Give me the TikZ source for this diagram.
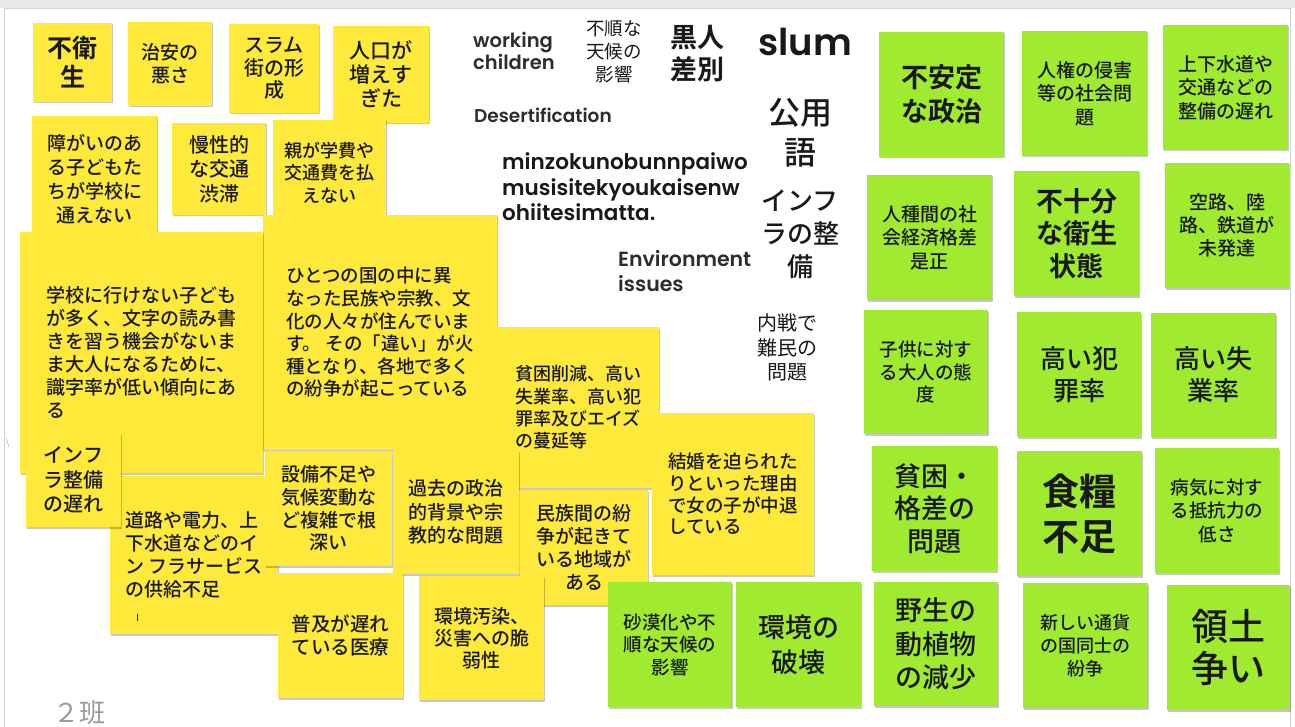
\documentclass[tikz,border=0pt]{standalone}
\usepackage{fontspec}
\setmainfont{Noto Sans CJK JP Medium}[BoldFont={Noto Sans CJK JP Bold}]
\newfontfamily\cjkr{Noto Sans CJK JP}
\newfontfamily\pops{Poppins SemiBold}
\newfontfamily\popx{Poppins SemiBold}
\usetikzlibrary{shadows}
\definecolor{ny}{RGB}{255,233,59}
\definecolor{ng}{RGB}{160,235,48}
\definecolor{ink}{RGB}{25,25,25}
\definecolor{ink2}{RGB}{45,45,45}
\definecolor{band}{RGB}{232,234,237}
\newcommand\fsz[2]{\fontsize{#1}{#2}\selectfont}
\tikzset{
  note/.style={inner sep=0pt, align=center, text=ink,
    drop shadow={shadow xshift=1pt, shadow yshift=-1.5pt, opacity=0.22, fill=black}},
  yn/.style={note, fill=ny},
  gn/.style={note, fill=ng},
  free/.style={inner sep=0pt, text=ink},
}
\begin{document}
\begin{tikzpicture}[x=1pt,y=-1pt]
\useasboundingbox (0,0) rectangle (1295,727);
% board
\fill[white] (0,0) rectangle (1295,727);
\fill[band] (0,0) rectangle (1295,8);
\draw[gray!35, line width=1pt] (4.5,727) -- (4.5,8.5) -- (1290,8.5) -- (1290,727);
\draw[gray!60, line width=0.6pt] (6,438) -- (9,447);

% ---------- yellow notes ----------
\node[yn, minimum width=79pt, minimum height=79pt, font=\fsz{25}{29}\bfseries] (n1) at (72.5,62.5) {不衛\\生};
\node[yn, minimum width=84pt, minimum height=84pt, font=\fsz{19}{23}] (n2) at (170,64) {治安の\\悪さ};
\node[yn, minimum width=90pt, minimum height=89pt, font=\fsz{20}{22.5}] (n3) at (274,68.5) {スラム\\街の形\\成};
\node[yn, minimum width=96pt, minimum height=97pt, font=\fsz{21}{24}] (n4) at (381,74.5) {人口が\\増えす\\ぎた};
\node[yn, minimum width=125pt, minimum height=126pt, font=\fsz{19}{24}] (n5) at (94.5,179) {障がいのあ\\る子どもた\\ちが学校に\\通えない};
\node[yn, minimum width=94pt, minimum height=92pt, font=\fsz{20}{24.5}] (n6) at (219,169) {慢性的\\な交通\\渋滞};
\node[yn, minimum width=113pt, minimum height=105pt, font=\fsz{18}{22.5}] (n7) at (329.5,172.5) {親が学費や\\交通費を払\\えない};
\node[yn, minimum width=234pt, minimum height=235pt, align=left, font=\fsz{18.5}{22.6}] (n9) at (380,332.5)
  {ひとつの国の中に異\\なった民族や宗教、文\\化の人々が住んでいま\\す。 その「違い」が火\\種となり、各地で多く\\の紛争が起こっている};
\node[yn, minimum width=243pt, minimum height=241pt, align=left, font=\fsz{19}{23}] (n8) at (141.5,352.5)
  {学校に行けない子ども\\が多く、文字の読み書\\きを習う機会がないま\\ま大人になるために、\\識字率が低い傾向にあ\\る};
\node[yn, minimum width=168pt, minimum height=158pt, align=left, font=\fsz{19}{23}] (n11) at (194,555)
  {道路や電力、上\\下水道などのイ\\ン フラサービス\\の供給不足};
\draw[ink, line width=0.6pt] (137,614) -- (137,621);
\node[yn, minimum width=95pt, minimum height=94pt, font=\fsz{20}{24.5}] (n10) at (73.5,480) {インフ\\ラ整備\\の遅れ};
\node[yn, minimum width=127pt, minimum height=115pt, font=\fsz{19}{22.7}] (n12) at (328.5,508.5) {設備不足や\\気候変動な\\ど複雑で根\\深い};
\node[yn, minimum width=162pt, minimum height=161pt, align=left, font=\fsz{18}{22.3}] (n14) at (578,407.5)
  {貧困削減、高い\\失業率、高い犯\\罪率及びエイズ\\の蔓延等};
\node[yn, minimum width=126pt, minimum height=124pt, font=\fsz{19}{23.5}] (n13) at (456,512) {過去の政治\\的背景や宗\\教的な問題};
\node[yn, minimum width=128pt, minimum height=115pt, font=\fsz{19}{23.3}] (n15) at (584,547.5) {民族間の紛\\争が起きて\\いる地域が\\ある};
\node[yn, minimum width=162pt, minimum height=162pt, align=left, font=\fsz{18.5}{21.7}] (n16) at (733,494)
  {結婚を迫られた\\りといった理由\\で女の子が中退\\している};
\node[yn, minimum width=125pt, minimum height=125pt, font=\fsz{19.5}{23}] (n17) at (340.5,635.5) {普及が遅れ\\ている医療};
\node[yn, minimum width=125pt, minimum height=124pt, font=\fsz{19}{22}] (n18) at (481.5,638) {環境汚染、\\災害への脆\\弱性};

% ---------- green notes ----------
\node[gn, minimum width=125pt, minimum height=125pt, font=\fsz{27}{34}\bfseries] (g1) at (941.5,94.5) {不安定\\な政治};
\node[gn, minimum width=125pt, minimum height=125pt, font=\fsz{19}{23.5}] (g2) at (1084.5,93.5) {人権の侵害\\等の社会問\\題};
\node[gn, minimum width=125pt, minimum height=125pt, font=\fsz{19}{23.5}] (g3) at (1225.5,87.5) {上下水道や\\交通などの\\整備の遅れ};
\node[gn, minimum width=125pt, minimum height=125pt, font=\fsz{19}{23.5}] (g4) at (929.5,237.5) {人種間の社\\会経済格差\\是正};
\node[gn, minimum width=125pt, minimum height=125pt, font=\fsz{27}{32.5}\bfseries] (g5) at (1076.5,233.5) {不十分\\な衛生\\状態};
\node[gn, minimum width=124pt, minimum height=125pt, font=\fsz{19}{23}] (g6) at (1227,225.5) {空路、陸\\路、鉄道が\\未発達};
\node[gn, minimum width=124pt, minimum height=124pt, font=\fsz{18.5}{22.5}] (g7) at (926,372) {子供に対す\\る大人の態\\度};
\node[gn, minimum width=124pt, minimum height=125pt, font=\fsz{26}{32}] (g8) at (1079,374.5) {高い犯\\罪率};
\node[gn, minimum width=125pt, minimum height=124pt, font=\fsz{26}{32}] (g9) at (1213.5,375) {高い失\\業率};
\node[gn, minimum width=125pt, minimum height=125pt, font=\fsz{27}{32.5}] (g10) at (934.5,508.5) {貧困・\\格差の\\問題};
\node[gn, minimum width=125pt, minimum height=125pt, font=\fsz{37}{45}\bfseries] (g11) at (1079.5,513.5) {食糧\\不足};
\node[gn, minimum width=124pt, minimum height=125pt, font=\fsz{18.5}{23.5}] (g12) at (1217,510.5) {病気に対す\\る抵抗力の\\低さ};
\node[gn, minimum width=124pt, minimum height=124pt, font=\fsz{27}{33.5}] (g13) at (936,644) {野生の\\動植物\\の減少};
\node[gn, minimum width=125pt, minimum height=125pt, font=\fsz{18}{23}] (g14) at (1085.5,645.5) {新しい通貨\\の国同士の\\紛争};
\node[gn, minimum width=123pt, minimum height=125pt, font=\fsz{37}{42}] (g15) at (1228.5,647.5) {領土\\争い};
\node[gn, minimum width=124pt, minimum height=125pt, font=\fsz{18.5}{22.5}] (g16) at (670,644.5) {砂漠化や不\\順な天候の\\影響};
\node[gn, minimum width=125pt, minimum height=125pt, font=\fsz{27}{35}] (g17) at (798.5,644.5) {環境の\\破壊};

% ---------- free text ----------
\node[free, anchor=west, align=left, font=\popx\fsz{19.5}{22}, text=ink2] (t1) at (473,51) {working\\children};
\node[free, align=center, font=\cjkr\fsz{18.5}{23}] (t2) at (614,52) {不順な\\天候の\\影響};
\node[free, align=center, font=\fsz{27}{32}\bfseries] (t3) at (697,54) {黒人\\差別};
\node[free, font=\pops\fsz{37}{40}] (t4) at (805,41.5) {slum};
\node[free, anchor=west, font=\popx\fsz{18.5}{22}, text=ink2] (t5) at (474,115) {Desertification};
\node[free, align=center, font=\fsz{32}{40}] (t6) at (800,133) {公用\\語};
\node[free, anchor=west, align=left, font=\popx\fsz{21.5}{25.5}] (t7) at (502,187) {minzokunobunnpaiwo\\musisitekyoukaisenw\\ohiitesimatta.};
\node[free, align=center, font=\fsz{26}{33}] (t8) at (800,234.5) {インフ\\ラの整\\備};
\node[free, anchor=west, align=left, font=\popx\fsz{20.5}{25}, text=ink2] (t9) at (618,271.5) {Environment\\issues};
\node[free, align=center, font=\cjkr\fsz{20}{24.5}] (t10) at (787,347.5) {内戦で\\難民の\\問題};
\node[free, font=\cjkr\fsz{26}{30}, text=gray!80] (t11) at (79,713) {２班};
\end{tikzpicture}
\end{document}
